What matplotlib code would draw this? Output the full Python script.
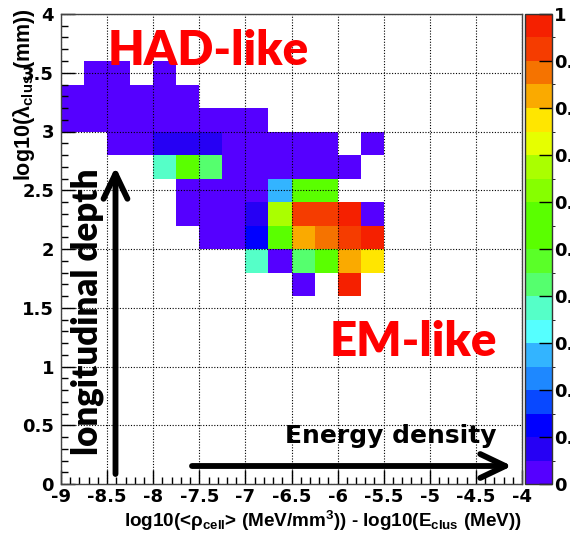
import numpy as np
import matplotlib
matplotlib.use("Agg")
import matplotlib.pyplot as plt
from matplotlib.colors import ListedColormap, BoundaryNorm
from matplotlib.patches import FancyArrowPatch

plt.rcParams["font.family"] = ["DejaVu Sans"]
plt.rcParams["font.weight"] = "bold"
plt.rcParams["axes.unicode_minus"] = False
plt.rcParams["mathtext.fontset"] = "custom"
plt.rcParams["mathtext.rm"] = "Liberation Sans:bold"
plt.rcParams["mathtext.it"] = "Liberation Sans:bold"
plt.rcParams["mathtext.bf"] = "Liberation Sans:bold"
plt.rcParams["mathtext.default"] = "bf"

# ---- histogram content -------------------------------------------------
# x bins: 0.25 wide starting at -9 ; y bins: 0.2 high starting at 1.6
x_bin_left = [-9.0, -8.75, -8.5, -8.25, -8.0, -7.75, -7.5, -7.25,
              -7.0, -6.75, -6.5, -6.25, -6.0, -5.75]
y_bin_low = [1.6, 1.8, 2.0, 2.2, 2.4, 2.6, 2.8, 3.0, 3.2, 3.4]
x_bin_width = 0.25
y_bin_height = 0.2

n = np.nan
# rows ordered from y = 1.6 upwards, columns from x = -9 rightwards
cell_values = [
    [n,    n,    n,    n,    n,    n,    n,    n,    n,    n,    0.03, n,    0.97, n   ],
    [n,    n,    n,    n,    n,    n,    n,    n,    0.38, 0.03, 0.43, 0.56, 0.83, 0.78],
    [n,    n,    n,    n,    n,    n,    0.03, 0.03, 0.12, 0.56, 0.83, 0.87, 0.92, 0.97],
    [n,    n,    n,    n,    n,    0.03, 0.03, 0.03, 0.08, 0.67, 0.92, 0.92, 0.97, 0.03],
    [n,    n,    n,    n,    n,    0.03, 0.03, 0.03, 0.03, 0.28, 0.56, 0.56, n,    n   ],
    [n,    n,    n,    n,    0.38, 0.56, 0.43, 0.03, 0.03, 0.03, 0.03, 0.03, 0.03, n   ],
    [n,    n,    0.03, 0.03, 0.08, 0.08, 0.08, 0.03, 0.03, 0.03, 0.03, 0.03, n,    0.03],
    [0.03, 0.03, 0.03, 0.03, 0.03, 0.03, 0.03, 0.03, 0.03, n,    n,    n,    n,    n   ],
    [0.03, 0.03, 0.03, 0.03, 0.03, 0.03, n,    n,    n,    n,    n,    n,    n,    n   ],
    [n,    0.03, 0.03, n,    0.03, n,    n,    n,    n,    n,    n,    n,    n,    n   ],
]

# 20-level palette, violet -> red
palette = ["#5500ff", "#2600f4", "#0000ff", "#0848ff", "#1e88ff",
           "#33b4ff", "#55ffff", "#55ffc8", "#55ff6e", "#5aff28",
           "#5aff00", "#5aff00", "#86ff00", "#aaff00", "#e6ff00",
           "#ffe600", "#faaa00", "#f57300", "#f53c00", "#f52000"]
levels = np.linspace(0.0, 1.0, 21)

x_ticks = [-9, -8.5, -8, -7.5, -7, -6.5, -6, -5.5, -5, -4.5, -4]
y_ticks = [0, 0.5, 1, 1.5, 2, 2.5, 3, 3.5, 4]
z_ticks = [0, 0.1, 0.2, 0.3, 0.4, 0.5, 0.6, 0.7, 0.8, 0.9, 1.0]

# ---- figure --------------------------------------------------------------
W, H = 570, 538
fig = plt.figure(figsize=(W / 100, H / 100), dpi=100)
ax = fig.add_axes([61 / W, 1 - 484 / H, 461 / W, 470 / H])
cax = fig.add_axes([525 / W, 1 - 484 / H, 27 / W, 470 / H])

x_edges = np.array(x_bin_left + [x_bin_left[-1] + x_bin_width])
y_edges = np.array(y_bin_low + [y_bin_low[-1] + y_bin_height])
z = np.ma.masked_invalid(np.array(cell_values, dtype=float))

cmap = ListedColormap(palette)
norm = BoundaryNorm(levels, cmap.N)
mesh = ax.pcolormesh(x_edges, y_edges, z, cmap=cmap, norm=norm,
                     edgecolors="none", zorder=1)

ax.set_xlim(-9, -4)
ax.set_ylim(0, 4)
ax.set_xticks(x_ticks)
ax.set_xticklabels([f"{t:g}" for t in x_ticks])
ax.set_yticks(y_ticks)
ax.set_yticklabels([f"{t:g}" for t in y_ticks])
ax.xaxis.set_minor_locator(matplotlib.ticker.MultipleLocator(0.1))
ax.yaxis.set_minor_locator(matplotlib.ticker.MultipleLocator(0.1))
ax.tick_params(which="both", direction="in", top=False, right=False,
               colors="black", width=1.0, labelsize=13)
ax.tick_params(which="major", length=10)
ax.tick_params(which="minor", length=5)
ax.tick_params(axis="x", pad=3)
ax.tick_params(axis="y", pad=5)
ax.grid(True, which="major", color="black", linestyle=(0, (1, 1.5)),
        linewidth=0.8)
for sp in ax.spines.values():
    sp.set_color("#444444")
    sp.set_linewidth(1.0)

# colour scale
cb = fig.colorbar(mesh, cax=cax, boundaries=levels, ticks=z_ticks)
cb.outline.set_edgecolor("#333333")
cb.outline.set_linewidth(1.0)
cax.set_yticklabels([f"{t:g}" for t in z_ticks])
cax.tick_params(direction="in", length=9.5, width=1.0, labelsize=13,
                pad=1.5, colors="black")

# axis titles
fig.text(522 / W, 1 - 527 / H,
         r"log10(<ρ$_{cell}$> (MeV/mm$^{3}$)) - log10(E$_{clus}$ (MeV))",
         ha="right", va="baseline", fontsize=13.6,
         fontfamily="Liberation Sans", fontweight="bold")
fig.text(11 / W, 1 - 8 / H, r"log10(λ$_{clus}$ (mm))",
         rotation=90, ha="left", va="top", fontsize=15.5,
         fontfamily="Liberation Sans", fontweight="bold")

# annotations
ax.text((108 - 61) / 461, (484 - 65) / 470, "HAD-like", transform=ax.transAxes,
        color="#ff0000", fontsize=34, fontfamily="Lato", fontweight="heavy",
        ha="left", va="baseline")
ax.text((330 - 61) / 461, (484 - 356) / 470, "EM-like", transform=ax.transAxes,
        color="#ff0000", fontsize=34, fontfamily="Lato", fontweight="heavy",
        ha="left", va="baseline")
ax.text((285 - 61) / 461, (484 - 443) / 470, "Energy density",
        transform=ax.transAxes, color="black", fontsize=18,
        fontfamily="DejaVu Sans", fontweight="bold", ha="left", va="baseline")
ax.text((98 - 61) / 461, (484 - 455) / 470, "longitudinal depth",
        transform=ax.transAxes, color="black", fontsize=25,
        fontfamily="Lato", fontweight="heavy", rotation=90,
        rotation_mode="anchor", ha="left", va="baseline")

arrow_kw = dict(transform=ax.transAxes, color="black", lw=4.2,
                arrowstyle="->,head_length=18,head_width=8.6",
                mutation_scale=1, shrinkA=0, shrinkB=0, clip_on=False,
                zorder=5)
ax.add_patch(FancyArrowPatch(((115.5 - 61) / 461, (484 - 474) / 470),
                             ((115.5 - 61) / 461, (484 - 167) / 470),
                             **arrow_kw))
ax.add_patch(FancyArrowPatch(((192 - 61) / 461, (484 - 466) / 470),
                             ((512 - 61) / 461, (484 - 466) / 470),
                             **arrow_kw))

fig.savefig("out.png", dpi=100)
